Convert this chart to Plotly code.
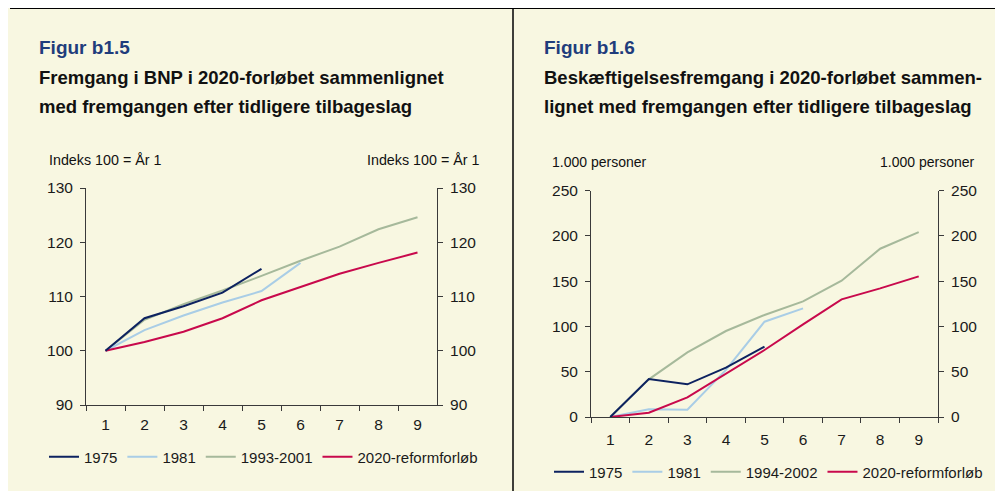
import plotly.graph_objects as go

# x categories (year number after the downturn)
years = ["1", "2", "3", "4", "5", "6", "7", "8", "9"]

# Figur b1.5 - BNP, indeks 100 = år 1
bnp_1975 = [100, 106.0, 108.2, 110.7, 115.1]
bnp_1981 = [100, 103.8, 106.5, 108.9, 111.0, 116.2]
bnp_1993 = [100, 105.7, 108.6, 111.1, 113.8, 116.6, 119.2, 122.4, 124.6]
bnp_2020 = [100, 101.6, 103.5, 106.0, 109.3, 111.8, 114.2, 116.2, 118.1]

# Figur b1.6 - beskæftigelse, 1.000 personer
bsk_1975 = [0, 42.0, 36.1, 54.5, 77.7]
bsk_1981 = [0, 8.5, 8.1, 52.0, 105.3, 120.0]
bsk_1994 = [0, 41.6, 71.4, 95.0, 112.7, 127.8, 150.6, 185.9, 204.3]
bsk_2020 = [0, 4.8, 21.7, 48.2, 74.0, 102.4, 130.0, 142.1, 155.4]

# the page body keeps its default 8px margin, so the figure sits at (8, 8)
OFF = 8
W, H = 1003 - 2 * OFF, 499 - 2 * OFF
FONT = "Arial, Liberation Sans, sans-serif"
CREAM = "#F8F7E1"
C_NAVY = "#0D2260"
C_LBLUE = "#A9CDE6"
C_GREEN = "#A6B99B"
C_RED = "#C8094C"
C_TITLE = "#1F3D7C"


def px_x(x):
    # page pixel -> paper fraction
    return (x - OFF) / W


def px_y(y):
    return 1 - (y - OFF) / H


fig = go.Figure()

left_series = [("1975", bnp_1975, C_NAVY), ("1981", bnp_1981, C_LBLUE),
               ("1993-2001", bnp_1993, C_GREEN), ("2020-reformforløb", bnp_2020, C_RED)]
right_series = [("1975", bsk_1975, C_NAVY), ("1981", bsk_1981, C_LBLUE),
                ("1994-2002", bsk_1994, C_GREEN), ("2020-reformforløb", bsk_2020, C_RED)]

# draw order: green behind, then others
order = [2, 1, 3, 0]
for i in order:
    name, vals, col = left_series[i]
    fig.add_trace(go.Scatter(x=years[:len(vals)], y=vals, name=name, mode="lines",
                             line=dict(color=col, width=2), xaxis="x", yaxis="y",
                             legend="legend", legendrank=i))
for i in order:
    name, vals, col = right_series[i]
    fig.add_trace(go.Scatter(x=years[:len(vals)], y=vals, name=name, mode="lines",
                             line=dict(color=col, width=2), xaxis="x2", yaxis="y3",
                             legend="legend2", legendrank=i))

# invisible traces so the right-hand axes are drawn
fig.add_trace(go.Scatter(x=years, y=bnp_2020, xaxis="x", yaxis="y2", mode="lines",
                         line=dict(width=0), showlegend=False, hoverinfo="skip"))
fig.add_trace(go.Scatter(x=years, y=bsk_2020, xaxis="x2", yaxis="y4", mode="lines",
                         line=dict(width=0), showlegend=False, hoverinfo="skip"))

axis_style = dict(showline=True, linecolor="#3a3a3a", linewidth=1, ticks="outside",
                  ticklen=5, tickcolor="#3a3a3a", showgrid=False, zeroline=False,
                  tickfont=dict(family=FONT, size=15.5, color="#1a1a1a"))
xstyle = dict(type="category", tickson="boundaries", range=[-0.5, 8.5], **axis_style)
ystyle = dict(ticklabelstandoff=4, **axis_style)

legend_style = dict(orientation="h", xanchor="left", yanchor="middle", itemwidth=30,
                    bgcolor="rgba(0,0,0,0)", traceorder="normal",
                    font=dict(family=FONT, size=15, color="#1a1a1a"))

fig.update_layout(
    width=W, height=H,
    margin=dict(l=0, r=0, t=0, b=0, autoexpand=False),
    paper_bgcolor=CREAM,
    plot_bgcolor=CREAM,
    font=dict(family=FONT, color="#1a1a1a"),
    showlegend=True,
    xaxis=dict(domain=[px_x(86), px_x(437)], anchor="y", ticklabelstandoff=5, **xstyle),
    yaxis=dict(domain=[px_y(405), px_y(188)], anchor="x", range=[90, 130], dtick=10, **ystyle),
    yaxis2=dict(overlaying="y", side="right", anchor="x", range=[90, 130], dtick=10, **ystyle),
    xaxis2=dict(domain=[px_x(591), px_x(938)], anchor="y3", ticklabelstandoff=8, **xstyle),
    yaxis3=dict(domain=[px_y(417), px_y(190.7)], anchor="x2", range=[0, 250], dtick=50, **ystyle),
    yaxis4=dict(overlaying="y3", side="right", anchor="x2", range=[0, 250], dtick=50, **ystyle),
    legend=dict(x=px_x(44), y=px_y(457), **legend_style),
    legend2=dict(x=px_x(549), y=px_y(472), **legend_style),
)

# frame lines
fig.add_shape(type="line", xref="paper", yref="paper", x0=px_x(10), x1=1, y0=1, y1=1,
              line=dict(color="black", width=2))
fig.add_shape(type="line", xref="paper", yref="paper", x0=px_x(513), x1=px_x(513), y0=0, y1=1,
              line=dict(color="black", width=1.5))


def txt(x, y, s, size, color="#111", bold=False, anchor="left"):
    fig.add_annotation(x=px_x(x), y=px_y(y), xref="paper", yref="paper",
                       text=f"<b>{s}</b>" if bold else s,
                       showarrow=False, xanchor=anchor, yanchor="middle",
                       xshift=-1 if anchor == "left" else 1,
                       font=dict(family=FONT, size=size, color=color))


txt(38, 47, "Figur b1.5", 19, C_TITLE, True)
txt(38, 78, "Fremgang i BNP i 2020-forløbet sammenlignet", 18.5, "#111", True)
txt(38, 106, "med fremgangen efter tidligere tilbageslag", 18.5, "#111", True)
txt(48, 160, "Indeks 100 = År 1", 14.3)
txt(481, 160, "Indeks 100 = År 1", 14.3, anchor="right")

txt(543, 47, "Figur b1.6", 19, C_TITLE, True)
txt(543, 78, "Beskæftigelsesfremgang i 2020-forløbet sammen-", 18.5, "#111", True)
txt(543, 106, "lignet med fremgangen efter tidligere tilbageslag", 18.5, "#111", True)
txt(551, 162, "1.000 personer", 14)
txt(976, 162, "1.000 personer", 14, anchor="right")

fig.write_html("out.html")
